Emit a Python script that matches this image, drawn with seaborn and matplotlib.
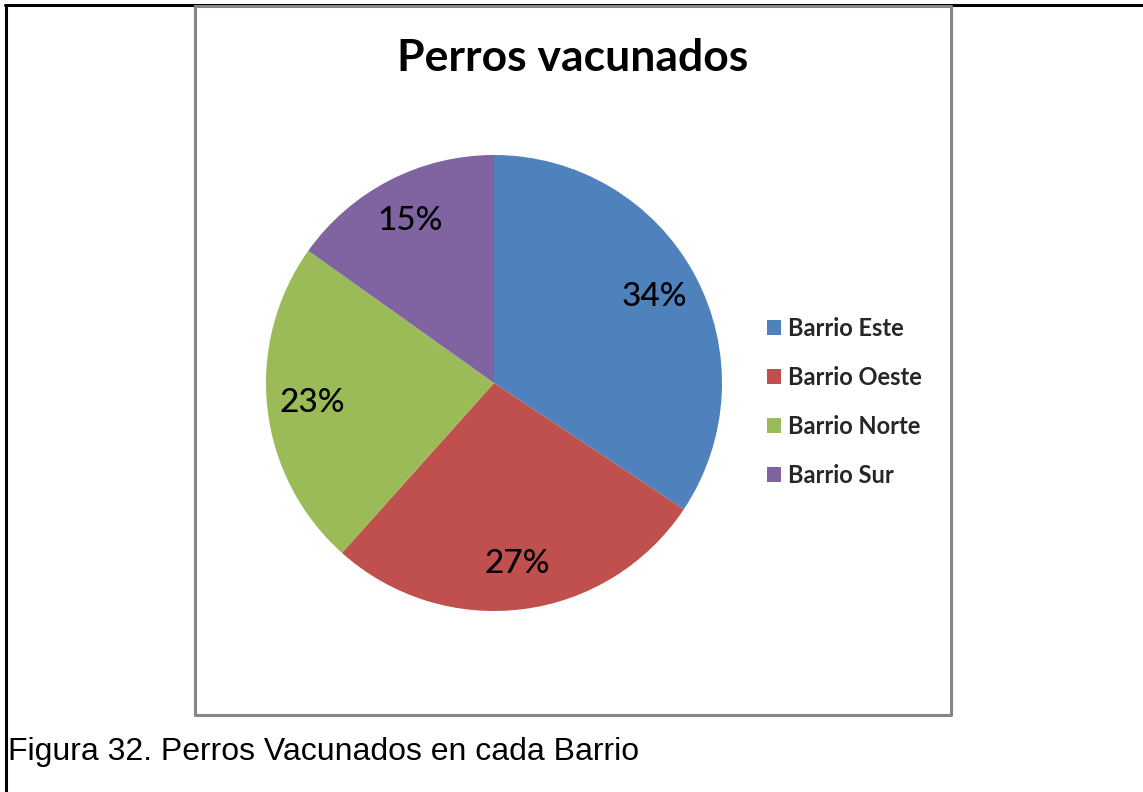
import matplotlib.pyplot as plt
import numpy as np
import seaborn as sns
from matplotlib.lines import Line2D

# data
barrios = ['Barrio Este', 'Barrio Oeste', 'Barrio Norte', 'Barrio Sur']
porcentajes = [34, 27, 23, 15]
colores = ['#4F81BD', '#C0504D', '#9BBB59', '#8064A2']

sns.set_theme(style='white')
plt.rcParams['font.family'] = ['Lato', 'DejaVu Sans']

W, H = 1143, 792
fig = plt.figure(figsize=(W / 100, H / 100), dpi=100)
fig.patch.set_facecolor('white')


def fx(px):
    return px / W


def fy(py):
    return 1 - py / H


# outer page frame (top and left)
fig.add_artist(Line2D([fx(5), fx(1143)], [fy(5), fy(5)], color='black', lw=2.2))
fig.add_artist(Line2D([fx(6), fx(6)], [fy(5), fy(792)], color='black', lw=2.2))

# chart area box
box_x = [fx(195), fx(951), fx(951), fx(195), fx(195)]
box_y = [fy(6), fy(6), fy(715), fy(715), fy(6)]
fig.add_artist(Line2D(box_x, box_y, color='#868686', lw=2.2))

# pie axes
cx, cy, r = 494, 383, 228
ax = fig.add_axes([fx(cx - r), fy(cy + r), 2 * r / W, 2 * r / H])
wedges, _ = ax.pie(porcentajes, colors=colores, startangle=90, counterclock=False,
                   radius=1, wedgeprops=dict(linewidth=0))
ax.set_xlim(-1, 1)
ax.set_ylim(-1, 1)
ax.axis('off')

# percentage labels
total = sum(porcentajes)
ang = 90
for p in porcentajes:
    theta = np.deg2rad(ang - p / total * 360 / 2)
    ang -= p / total * 360
    ax.text(0.8 * np.cos(theta), 0.8 * np.sin(theta), f'{p}%',
            ha='center', va='center', fontsize=24, fontweight='medium', color='black')

fig.text(fx(573), fy(58), 'Perros vacunados', ha='center', va='center',
         fontsize=32, fontweight='bold', color='black')

leg = fig.legend(wedges, barrios, loc='center left',
                 bbox_to_anchor=(fx(746), fy(402)), frameon=False,
                 prop={'family': 'Lato', 'weight': 'bold', 'size': 17},
                 handlelength=0.6, handleheight=0.6, handletextpad=0.3,
                 labelspacing=1.1)

fig.text(fx(8), fy(752), 'Figura 32. Perros Vacunados en cada Barrio',
         ha='left', va='center', fontsize=23, family='Liberation Sans',
         color='black')

fig.savefig('out.png', dpi=100)
